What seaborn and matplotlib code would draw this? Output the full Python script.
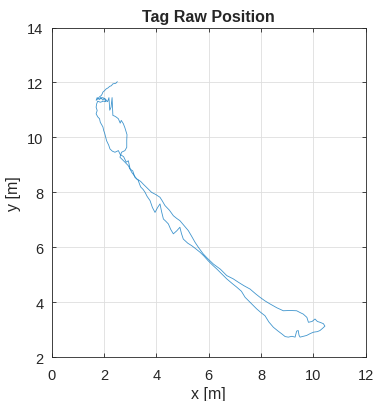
import pandas as pd
import seaborn as sns
import matplotlib.pyplot as plt

# tag trajectory (metres)
x_m = [2.51, 2.45, 2.34, 2.28, 2.22, 2.15, 2.09, 2.02, 1.96, 1.93, 1.90, 1.82, 1.77, 1.70,
       1.74, 1.82, 1.88, 1.95, 2.02, 2.08, 1.98, 1.86, 1.76, 1.72, 1.70, 1.74, 1.70, 1.76,
       1.83, 1.86, 1.92, 1.96, 1.99, 2.03, 2.10, 2.18, 2.23, 2.32, 2.42, 2.55, 2.62, 2.75,
       2.85, 2.93, 3.00, 3.10, 3.18, 3.30, 3.40, 3.50, 3.57, 3.65, 3.76, 3.85, 3.95, 4.05,
       4.14, 4.20, 4.27, 4.36, 4.46, 4.55, 4.65, 4.78, 4.90, 4.96, 5.03, 5.20, 5.35, 5.50,
       5.67, 5.82, 5.98, 6.15, 6.31, 6.50, 6.69, 6.90, 7.07, 7.25, 7.39, 7.60, 7.83, 8.00,
       8.15, 8.30, 8.47, 8.65, 8.79, 8.92, 9.04, 9.18, 9.30, 9.36, 9.42, 9.45, 9.49, 9.62,
       9.74, 9.88, 10.00, 10.15, 10.25, 10.35, 10.44, 10.38, 10.25, 10.15, 10.06, 9.95, 9.81,
       9.75, 9.61, 9.50, 9.36, 9.10, 8.85, 8.60, 8.34, 8.15, 7.96, 7.80, 7.58, 7.35, 7.13,
       6.94, 6.69, 6.45, 6.18, 5.95, 5.79, 5.62, 5.48, 5.35, 5.22, 5.05, 4.90, 4.78, 4.65,
       4.50, 4.33, 4.22, 4.14, 3.98, 3.82, 3.69, 3.50, 3.40, 3.25, 3.12, 3.06, 2.98, 2.93,
       2.80, 2.61, 2.67, 2.80, 2.87, 2.87, 2.88, 2.80, 2.74, 2.66, 2.62, 2.55, 2.47, 2.40,
       2.34, 2.31, 2.27, 2.22, 2.19, 2.14, 2.05, 1.95, 1.85]
y_m = [12.03, 11.97, 11.95, 11.88, 11.86, 11.80, 11.77, 11.70, 11.65, 11.58, 11.53, 11.47,
       11.41, 11.35, 11.45, 11.38, 11.46, 11.36, 11.42, 11.30, 11.32, 11.28, 11.32, 11.22,
       11.10, 10.98, 10.86, 10.75, 10.68, 10.55, 10.45, 10.38, 10.25, 10.14, 9.88, 9.72, 9.58,
       9.50, 9.46, 9.52, 9.38, 9.30, 9.10, 9.15, 8.85, 8.78, 8.55, 8.45, 8.20, 8.10, 8.00,
       7.85, 7.70, 7.45, 7.27, 7.45, 7.58, 7.30, 7.03, 6.95, 6.85, 6.65, 6.49, 6.60, 6.73,
       6.50, 6.30, 6.15, 6.06, 5.95, 5.82, 5.68, 5.51, 5.35, 5.21, 5.03, 4.85, 4.68, 4.55,
       4.40, 4.18, 3.98, 3.76, 3.62, 3.51, 3.28, 3.09, 2.95, 2.85, 2.75, 2.73, 2.76, 2.73,
       2.95, 2.97, 2.80, 2.73, 2.76, 2.79, 2.86, 2.91, 2.93, 2.97, 3.05, 3.13, 3.22, 3.27,
       3.30, 3.39, 3.30, 3.27, 3.45, 3.57, 3.62, 3.69, 3.70, 3.69, 3.80, 3.94, 4.05, 4.18,
       4.30, 4.48, 4.60, 4.73, 4.85, 4.97, 5.20, 5.39, 5.60, 5.76, 5.98, 6.18, 6.40, 6.61,
       6.80, 6.97, 7.05, 7.15, 7.35, 7.52, 7.70, 7.82, 7.92, 8.00, 8.12, 8.30, 8.40, 8.49,
       8.65, 8.73, 8.88, 8.97, 9.10, 9.28, 9.46, 9.52, 9.64, 9.90, 10.10, 10.35, 10.50, 10.62,
       10.52, 10.68, 10.74, 10.78, 10.80, 11.45, 11.10, 10.99, 11.45, 11.30, 11.40, 11.45,
       11.40]

x_ticks = [0, 2, 4, 6, 8, 10, 12]
y_ticks = [2, 4, 6, 8, 10, 12, 14]

df = pd.DataFrame({'x': x_m, 'y': y_m})

sns.set_style("ticks")
plt.rcParams['font.family'] = ['Liberation Sans', 'DejaVu Sans']

fig = plt.figure(figsize=(3.74, 4.02), dpi=100)
ax = fig.add_axes([0.138, 0.109, 0.840, 0.820])

sns.lineplot(data=df, x='x', y='y', sort=False, estimator=None,
             color='#0072BD', linewidth=0.6, alpha=0.75, ax=ax)

ax.set_xlim(0, 12)
ax.set_ylim(2, 14)
ax.set_xticks(x_ticks)
ax.set_yticks(y_ticks)
ax.grid(True, color='#dedede', linewidth=0.6)
ax.set_axisbelow(True)
for s in ax.spines.values():
    s.set_visible(True)
    s.set_color('#262626')
    s.set_linewidth(0.6)
ax.tick_params(direction='in', top=True, right=True, length=3, width=0.6,
               labelsize=10.5, colors='#262626')
ax.tick_params(axis='x', pad=8)
ax.tick_params(axis='y', pad=6)
ax.set_title('Tag Raw Position', fontsize=11.5, fontweight='bold', pad=5)
ax.set_xlabel('x [m]', fontsize=11.5, color='#262626', labelpad=3)
ax.set_ylabel('y [m]', fontsize=11.5, color='#262626', labelpad=4)

fig.savefig('out.png', dpi=100)
